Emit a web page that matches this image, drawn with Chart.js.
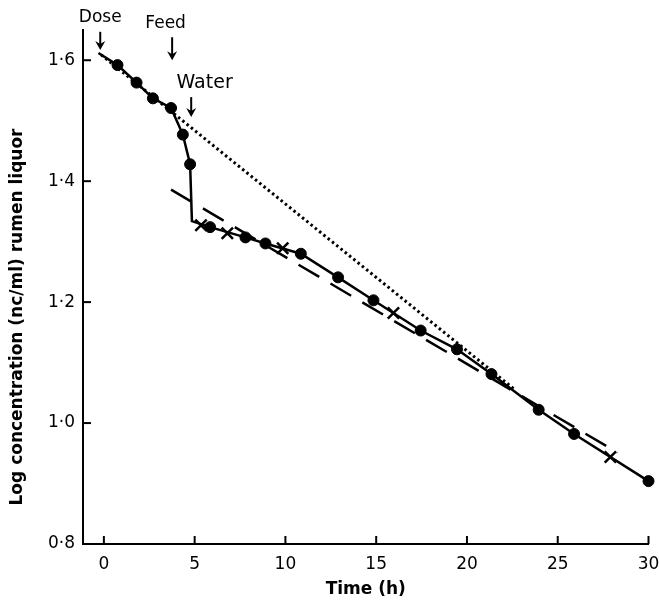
<!DOCTYPE html>
<html>
<head>
<meta charset="utf-8">
<script src="https://cdn.jsdelivr.net/npm/chart.js@4.4.0/dist/chart.umd.min.js"></script>
<style>
  body { margin: 0; background: #fff; }
</style>
</head>
<body>
<canvas id="chart" width="659" height="605"></canvas>
<script>
// measured points (closed circles)
const dotTimes = [0.75, 1.8, 2.7, 3.7, 4.35, 4.75, 5.85, 7.8, 8.9, 10.85, 12.9, 14.85, 17.45, 19.45, 21.35, 23.95, 25.9, 30];
const dotValues = [1.592, 1.563, 1.537, 1.521, 1.477, 1.428, 1.324, 1.307, 1.297, 1.280, 1.241, 1.203, 1.153, 1.122, 1.081, 1.022, 0.982, 0.904];

// crosses
const crossTimes = [5.35, 6.8, 9.85, 15.95, 27.9];
const crossValues = [1.327, 1.314, 1.289, 1.182, 0.944];

// solid curve through the dots (with start and the drop corner)
const solidTimes = [-0.3, 0.75, 1.8, 2.7, 3.7, 4.35, 4.75, 4.85, 5.85, 7.8, 8.9, 10.85, 12.9, 14.85, 17.45, 19.45, 21.35, 23.95, 25.9, 30];
const solidValues = [1.612, 1.592, 1.563, 1.537, 1.521, 1.477, 1.428, 1.334, 1.324, 1.307, 1.297, 1.280, 1.241, 1.203, 1.153, 1.122, 1.081, 1.022, 0.982, 0.904];

// dashed fitted line
const dashedTimes = [3.7, 28.3];
const dashedValues = [1.386, 0.951];

// dotted line
const dottedTimes = [-0.15, 22.65];
const dottedValues = [1.609, 1.055];

// axis ticks
const xTickValues = [0, 5, 10, 15, 20, 25, 30];
const yTickValues = [0.8, 1.0, 1.2, 1.4, 1.6];
const yTickLabels = ['0·8', '1·0', '1·2', '1·4', '1·6'];

// event arrows
const eventLabels = ['Dose', 'Feed', 'Water'];
const eventTimes = [-0.2, 3.76, 4.81];
const eventArrowTop = [1.647, 1.638, 1.539];
const eventArrowBottom = [1.617, 1.600, 1.506];
const eventLabelTimes = [-0.2, 3.4, 5.55];
const eventLabelValues = [1.670, 1.661, 1.563];

const FONT = '"DejaVu Sans", sans-serif';

function toXY(xs, ys) {
    return xs.map((x, i) => ({ x: x, y: ys[i] }));
}

const extras = {
    id: 'extras',
    afterDraw(chart) {
        const ctx = chart.ctx;
        const xs = chart.scales.x;
        const ys = chart.scales.y;
        const area = chart.chartArea;
        ctx.save();
        ctx.strokeStyle = '#000';
        ctx.fillStyle = '#000';
        ctx.lineWidth = 2;

        // inward tick marks
        xTickValues.forEach(v => {
            const px = xs.getPixelForValue(v);
            ctx.beginPath();
            ctx.moveTo(px, area.bottom);
            ctx.lineTo(px, area.bottom - 8);
            ctx.stroke();
        });
        yTickValues.forEach(v => {
            const py = ys.getPixelForValue(v);
            ctx.beginPath();
            ctx.moveTo(area.left, py);
            ctx.lineTo(area.left + 8, py);
            ctx.stroke();
        });

        // arrows and labels
        eventLabels.forEach((label, i) => {
            const px = xs.getPixelForValue(eventTimes[i]);
            const top = ys.getPixelForValue(eventArrowTop[i]);
            const bottom = ys.getPixelForValue(eventArrowBottom[i]);
            ctx.lineWidth = 2;
            ctx.beginPath();
            ctx.moveTo(px, top);
            ctx.lineTo(px, bottom - 4);
            ctx.stroke();
            ctx.beginPath();
            ctx.moveTo(px - 5, bottom - 9);
            ctx.lineTo(px, bottom);
            ctx.lineTo(px + 5, bottom - 9);
            ctx.lineTo(px, bottom - 6);
            ctx.closePath();
            ctx.fill();

            ctx.font = (label === 'Water' ? '19px ' : '17px ') + FONT;
            ctx.textAlign = 'center';
            ctx.textBaseline = 'middle';
            ctx.fillText(label, xs.getPixelForValue(eventLabelTimes[i]), ys.getPixelForValue(eventLabelValues[i]));
        });

        // axis titles
        ctx.font = 'bold 17px ' + FONT;
        ctx.textAlign = 'center';
        ctx.textBaseline = 'middle';
        ctx.fillText('Time (h)', (area.left + area.right) / 2, 590);

        ctx.translate(18, 317);
        ctx.rotate(-Math.PI / 2);
        ctx.fillText('Log concentration (nc/ml) rumen liquor', 0, 0);
        ctx.restore();
    }
};

new Chart(document.getElementById('chart').getContext('2d'), {
    type: 'scatter',
    data: {
        datasets: [
            {
                label: 'solid',
                type: 'line',
                data: toXY(solidTimes, solidValues),
                borderColor: '#000',
                borderWidth: 2.5,
                pointRadius: 0,
                fill: false,
                tension: 0,
                clip: false
            },
            {
                label: 'dashed',
                type: 'line',
                data: toXY(dashedTimes, dashedValues),
                borderColor: '#000',
                borderWidth: 2.5,
                borderDash: [24, 13],
                pointRadius: 0,
                fill: false,
                clip: false
            },
            {
                label: 'dotted',
                type: 'line',
                data: toXY(dottedTimes, dottedValues),
                borderColor: '#000',
                borderWidth: 3,
                borderDash: [2.5, 3],
                pointRadius: 0,
                fill: false,
                clip: false
            },
            {
                label: 'dots',
                data: toXY(dotTimes, dotValues),
                backgroundColor: '#000',
                borderColor: '#000',
                pointRadius: 5.5,
                pointStyle: 'circle',
                clip: false
            },
            {
                label: 'crosses',
                data: toXY(crossTimes, crossValues),
                backgroundColor: '#000',
                borderColor: '#000',
                borderWidth: 2.5,
                pointRadius: 8,
                pointStyle: 'crossRot',
                clip: false
            }
        ]
    },
    options: {
        responsive: false,
        animation: false,
        layout: {
            padding: { top: 30, right: 8, left: 0, bottom: 0 }
        },
        plugins: {
            legend: { display: false },
            tooltip: { enabled: false }
        },
        scales: {
            x: {
                type: 'linear',
                min: -1.15,
                max: 30,
                afterBuildTicks: (scale) => {
                    scale.ticks = xTickValues.map(v => ({ value: v }));
                },
                afterFit: (scale) => {
                    scale.height = 61;
                    scale.paddingLeft = 0;
                    scale.paddingRight = 0;
                },
                grid: { display: false, drawTicks: false },
                border: { display: true, color: '#000', width: 2 },
                ticks: {
                    color: '#000',
                    padding: 10,
                    maxRotation: 0,
                    font: { family: FONT, size: 17 }
                }
            },
            y: {
                type: 'linear',
                min: 0.8,
                max: 1.65,
                afterBuildTicks: (scale) => {
                    scale.ticks = yTickValues.map(v => ({ value: v }));
                },
                afterFit: (scale) => {
                    scale.width = 83;
                    scale.paddingTop = 0;
                    scale.paddingBottom = 0;
                },
                grid: { display: false, drawTicks: false },
                border: { display: true, color: '#000', width: 2 },
                ticks: {
                    color: '#000',
                    padding: 8,
                    font: { family: FONT, size: 17 },
                    callback: (value) => {
                        const i = yTickValues.findIndex(v => Math.abs(v - value) < 1e-6);
                        return i >= 0 ? yTickLabels[i] : '';
                    }
                }
            }
        }
    },
    plugins: [extras]
});
</script>
</body>
</html>
